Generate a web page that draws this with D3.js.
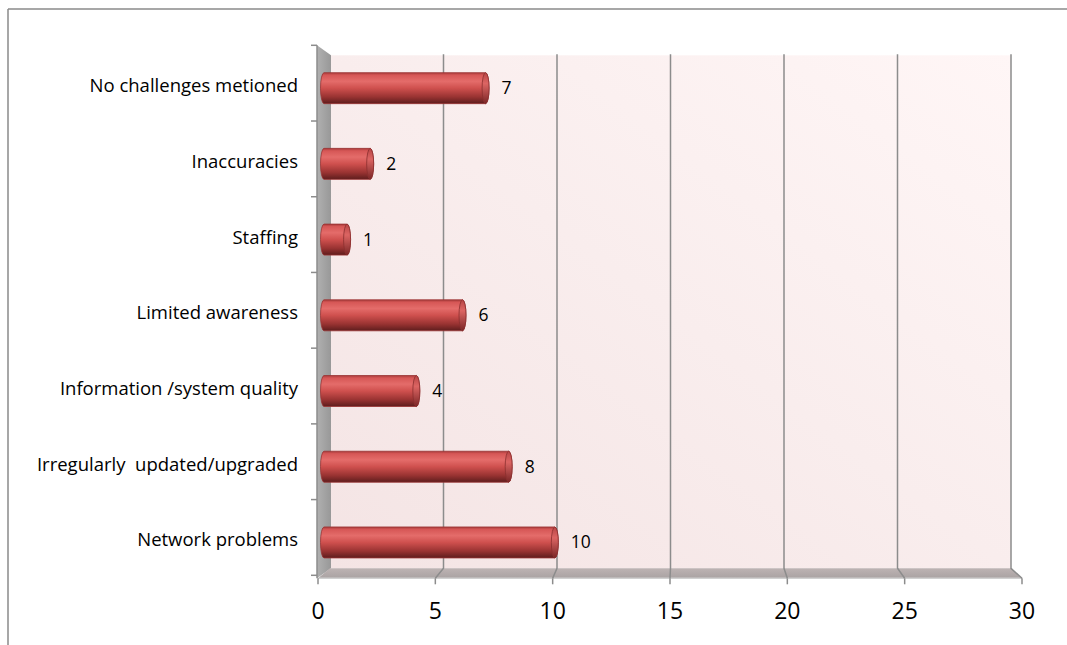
<!DOCTYPE html>
<html>
<head>
<meta charset="utf-8">
<script src="https://cdn.jsdelivr.net/npm/d3@7"></script>
<style>
  html, body { margin: 0; padding: 0; background: #ffffff; }
  svg { display: block; }
  text { font-family: "Open Sans", Lato, "Liberation Sans", sans-serif; fill: #000; }
</style>
</head>
<body>
<svg id="chart" width="1067" height="645"></svg>
<script>
// Challenges reported, counts per category (top to bottom)
const categories = [
  "No challenges metioned",
  "Inaccuracies",
  "Staffing",
  "Limited awareness",
  "Information /system quality",
  "Irregularly  updated/upgraded",
  "Network problems"
];
const values = [7, 2, 1, 6, 4, 8, 10];
const tickValues = [0, 5, 10, 15, 20, 25, 30];

const svg = d3.select("#chart");
const W = 1067, H = 645;

// Oblique 3D depth: front plane is shifted left/down relative to the back wall
const depth = { dx: -12, dy: 10 };

// Value scales on the back wall, the front plane and the middle depth (bars)
const xBack = d3.scaleLinear().domain([0, 30]).range([330, 1011]);
const xFront = d3.scaleLinear().domain([0, 30]).range([318, 1022]);
const xMid = d3.scaleLinear().domain([0, 30]).range([324, 1016.5]);

// Category scale on the front plane
const y = d3.scaleBand().domain(categories).range([45.3, 575.3]);
const backTop = y.range()[0] + depth.dy;     // 55
const backBottom = y.range()[1] - depth.dy;  // 565

const defs = svg.append("defs");

// Back wall gradient (pale pink)
const wallGrad = defs.append("linearGradient")
  .attr("id", "wallGrad").attr("x1", "0").attr("y1", "1").attr("x2", "1").attr("y2", "0");
wallGrad.append("stop").attr("offset", "0%").attr("stop-color", "#f4e4e4");
wallGrad.append("stop").attr("offset", "50%").attr("stop-color", "#f9eded");
wallGrad.append("stop").attr("offset", "100%").attr("stop-color", "#fff6f6");

// Side wall gradient (gray)
const sideGrad = defs.append("linearGradient")
  .attr("id", "sideGrad").attr("x1", "0").attr("y1", "0").attr("x2", "1").attr("y2", "0");
sideGrad.append("stop").attr("offset", "0%").attr("stop-color", "#b0b0b0");
sideGrad.append("stop").attr("offset", "100%").attr("stop-color", "#989898");

// Floor gradient
const floorGrad = defs.append("linearGradient")
  .attr("id", "floorGrad").attr("x1", "0").attr("y1", "0").attr("x2", "0").attr("y2", "1");
floorGrad.append("stop").attr("offset", "0%").attr("stop-color", "#bdb3b3");
floorGrad.append("stop").attr("offset", "100%").attr("stop-color", "#a9a2a2");

// Cylinder shading for bars
const barGrad = defs.append("linearGradient")
  .attr("id", "barGrad").attr("x1", "0").attr("y1", "0").attr("x2", "0").attr("y2", "1");
[["0%", "#a83a3a"], ["8%", "#d65756"], ["28%", "#e46c6a"], ["50%", "#cf504e"],
 ["78%", "#993332"], ["100%", "#5e1d1d"]].forEach(([o, c]) =>
  barGrad.append("stop").attr("offset", o).attr("stop-color", c));

const capGrad = defs.append("linearGradient")
  .attr("id", "capGrad").attr("x1", "0").attr("y1", "0").attr("x2", "0").attr("y2", "1");
[["0%", "#b84545"], ["35%", "#dc6563"], ["100%", "#7a2626"]].forEach(([o, c]) =>
  capGrad.append("stop").attr("offset", o).attr("stop-color", c));

// Outer frame (top and left edges)
svg.append("line").attr("x1", 8).attr("y1", 9).attr("x2", W).attr("y2", 9)
  .attr("stroke", "#8a8a8a").attr("stroke-width", 1.5);
svg.append("line").attr("x1", 8).attr("y1", 9).attr("x2", 8).attr("y2", H)
  .attr("stroke", "#8a8a8a").attr("stroke-width", 1.5);

// Back wall
svg.append("rect")
  .attr("x", xBack(0)).attr("y", backTop)
  .attr("width", xBack(30) - xBack(0)).attr("height", backBottom - backTop + 3)
  .attr("fill", "url(#wallGrad)");

// Side wall
const sideTop = y.range()[0], sideBottom = y.range()[1];
svg.append("polygon")
  .attr("points", [
    [xFront(0) - 1, sideTop], [xBack(0) + 1, backTop],
    [xBack(0) + 1, backBottom + 3], [xFront(0) - 1, sideBottom + 3]
  ].map(p => p.join(",")).join(" "))
  .attr("fill", "url(#sideGrad)");

// Floor
const floorBack = backBottom + 3, floorFront = sideBottom + 3;
svg.append("polygon")
  .attr("points", [
    [xBack(0), floorBack], [xBack(30), floorBack],
    [xFront(30), floorFront], [xFront(0), floorFront]
  ].map(p => p.join(",")).join(" "))
  .attr("fill", "url(#floorGrad)");
svg.append("line")
  .attr("x1", xFront(0)).attr("x2", xFront(30))
  .attr("y1", floorFront).attr("y2", floorFront)
  .attr("stroke", "#d0d0d0").attr("stroke-width", 1.5);

// Vertical gridlines on the back wall plus their slant across the floor
const grid = svg.append("g").attr("stroke", "#8c8c8c").attr("stroke-width", 1.5).attr("fill", "none");
tickValues.forEach(v => {
  if (v === 0) return;
  grid.append("polyline")
    .attr("points", [[xBack(v), backTop - 1], [xBack(v), floorBack], [xFront(v), floorFront]]
      .map(p => p.join(",")).join(" "));
});

// Front value axis ticks and labels
const xAxisG = svg.append("g");
tickValues.forEach(v => {
  xAxisG.append("line")
    .attr("x1", xFront(v)).attr("x2", xFront(v))
    .attr("y1", floorFront).attr("y2", floorFront + 6)
    .attr("stroke", "#8c8c8c").attr("stroke-width", 1.5);
  xAxisG.append("text")
    .attr("x", xFront(v)).attr("y", 619)
    .attr("text-anchor", "middle")
    .attr("font-size", 23)
    .text(v);
});

// Category axis ticks on the front edge of the side wall
const catBounds = [y.range()[0]].concat(categories.map(c => y(c) + y.bandwidth()));
const yAxisG = svg.append("g");
yAxisG.append("line")
  .attr("x1", xFront(0) - 1).attr("x2", xFront(0) - 1)
  .attr("y1", sideTop).attr("y2", floorFront)
  .attr("stroke", "#8c8c8c").attr("stroke-width", 1.5);
catBounds.forEach(b => {
  yAxisG.append("line")
    .attr("x1", xFront(0) - 7).attr("x2", xFront(0) - 1)
    .attr("y1", b).attr("y2", b)
    .attr("stroke", "#8c8c8c").attr("stroke-width", 1.5);
});

// Category labels
svg.append("g").selectAll("text").data(categories).join("text")
  .attr("x", 298)
  .attr("y", d => y(d) + y.bandwidth() / 2 + depth.dy / 2 + 4)
  .attr("text-anchor", "end")
  .attr("font-size", 18.5)
  .style("white-space", "pre")
  .text(d => d);

// Cylindrical bars at mid depth
const barH = 31, capRx = 3.5;
const bars = svg.append("g");
categories.forEach((c, i) => {
  const cy = y(c) + y.bandwidth() / 2 + depth.dy / 2;
  const x0 = xMid(0), x1 = xMid(values[i]);
  const g = bars.append("g");
  // body
  g.append("path")
    .attr("d", `M${x0},${cy - barH / 2} L${x1},${cy - barH / 2}
      A${capRx},${barH / 2} 0 0 1 ${x1},${cy + barH / 2}
      L${x0},${cy + barH / 2}
      A${capRx},${barH / 2} 0 0 1 ${x0},${cy - barH / 2} Z`)
    .attr("fill", "url(#barGrad)")
    .attr("stroke", "#9a3434").attr("stroke-width", 0.8);
  // end cap
  g.append("ellipse")
    .attr("cx", x1).attr("cy", cy)
    .attr("rx", capRx).attr("ry", barH / 2)
    .attr("fill", "url(#capGrad)")
    .attr("stroke", "#8a2e2e").attr("stroke-width", 0.8);
  // value label
  g.append("text")
    .attr("x", x1 + 16).attr("y", cy + 6)
    .attr("font-size", 17.5)
    .text(values[i]);
});
</script>
</body>
</html>
